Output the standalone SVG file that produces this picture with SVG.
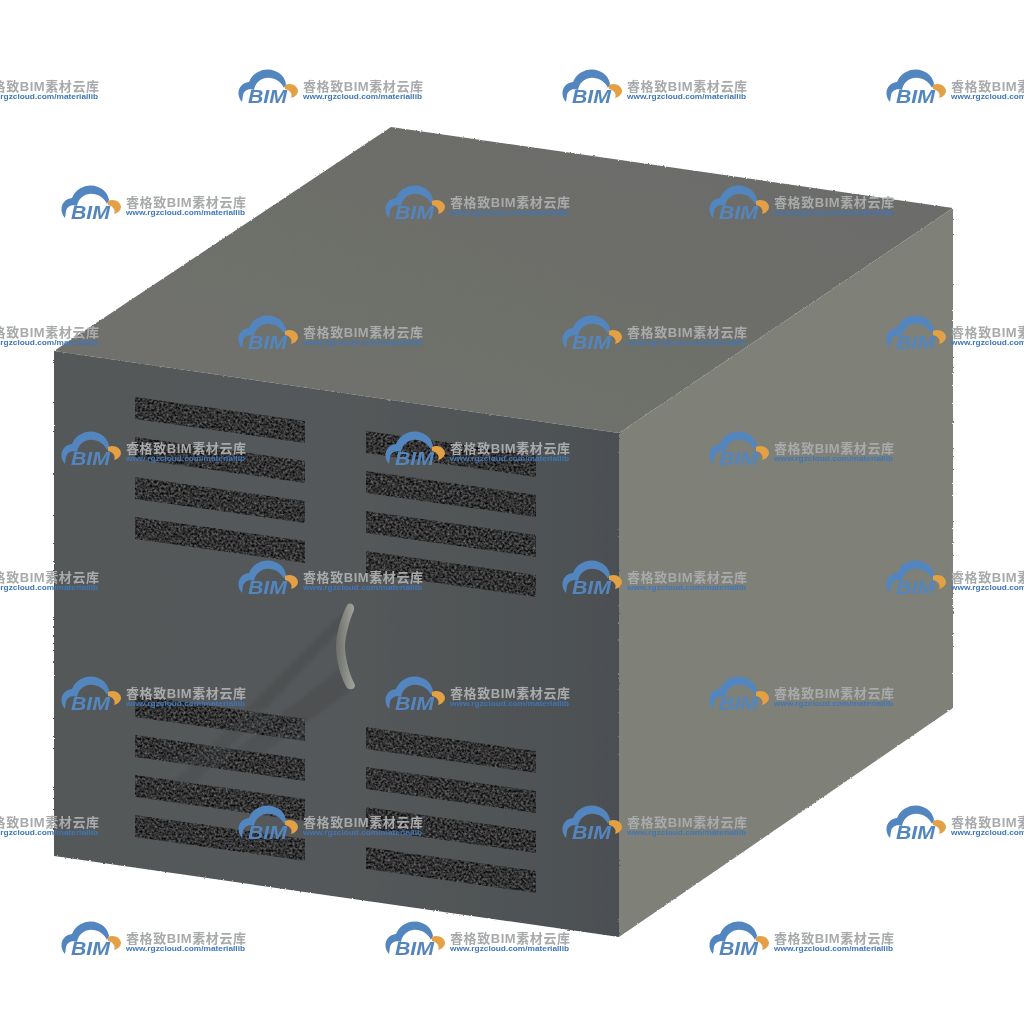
<svg xmlns="http://www.w3.org/2000/svg" xmlns:xlink="http://www.w3.org/1999/xlink" width="1024" height="1024" viewBox="0 0 1024 1024">
<style>
.wt{font-family:"Liberation Sans","Noto Sans CJK SC",sans-serif;font-size:13px;font-weight:700;fill:#a8aaab}
.wu{font-family:"Liberation Sans",sans-serif;font-size:8px;font-weight:700;fill:#3f76ba}
.wb{font-family:"Liberation Sans",sans-serif;font-size:18px;font-weight:700;font-style:italic;fill:#5386bf}
</style>
<defs>
<linearGradient id="front" x1="0" y1="0" x2="1" y2="0"><stop offset="0" stop-color="#555959"/><stop offset=".5" stop-color="#55595a"/><stop offset="1" stop-color="#4c5052"/></linearGradient>
<linearGradient id="top" x1="0" y1="1" x2="1" y2="0"><stop offset="0" stop-color="#70716d"/><stop offset="1" stop-color="#6b6c69"/></linearGradient>
<linearGradient id="handle" x1="0" y1="0" x2="1" y2="0"><stop offset="0" stop-color="#6d6f6b"/><stop offset="1" stop-color="#a3a59d"/></linearGradient>
<filter id="noise" x="-5%" y="-10%" width="110%" height="120%" color-interpolation-filters="sRGB">
<feTurbulence type="fractalNoise" baseFrequency=".42" numOctaves="2" seed="7" result="n"/>
<feColorMatrix in="n" type="matrix" values=".6 0 0 0 -.1  .6 0 0 0 -.1  .6 0 0 0 -.095  0 0 0 0 1" result="g"/>
<feDisplacementMap in="SourceGraphic" in2="n" scale="1.5" xChannelSelector="R" yChannelSelector="G" result="d"/>
<feComposite in="g" in2="d" operator="in"/>
<feGaussianBlur stdDeviation=".55"/>
</filter>
<filter id="rough" x="-2%" y="-2%" width="104%" height="104%">
<feTurbulence type="fractalNoise" baseFrequency=".6" numOctaves="1" seed="3" result="n"/>
<feDisplacementMap in="SourceGraphic" in2="n" scale="2.5" xChannelSelector="R" yChannelSelector="G"/>
</filter>
<filter id="soft"><feGaussianBlur stdDeviation="1.6"/></filter>
<filter id="wmsoft" x="-2%" y="-2%" width="104%" height="104%"><feGaussianBlur stdDeviation=".4"/></filter>
<polygon id="bar" points="0,0 170,24 170,46 0,22"/>
<g id="vent"><use xlink:href="#bar"/><use xlink:href="#bar" y="40"/><use xlink:href="#bar" y="80"/><use xlink:href="#bar" y="120"/></g>
<g id="wm">
<path fill="#5386bf" d="M4,32C-3,24 1,13 11,12C15,2 27,-3 37,1C43,3 47,8 48,14L46,18C43,11 35,7 28,8C21,9 17,14 16,20C10,18 6,21 5,25Z"/>
<path fill="#e3a044" d="M47,15C53,12 60,16 60,21C60,24 57,27 53,28C55,24 52,20 47,19Z"/>
<text class="wb" x="10" y="33" textLength="39" lengthAdjust="spacingAndGlyphs">BIM</text>
<text class="wt" x="65" y="21" textLength="120" lengthAdjust="spacing">睿格致BIM素材云库</text>
<text class="wu" x="65" y="29" textLength="119" lengthAdjust="spacingAndGlyphs">www.rgzcloud.com/materiallib</text>
</g>
</defs>
<rect width="1024" height="1024" fill="#fff"/>
<g id="box" filter="url(#rough)">
<polygon id="face-top" fill="url(#top)" points="54,351 391,127 953,208 619,433"/>
<polygon id="face-right" fill="#7f8178" points="619,433 953,208 953,708 619,937"/>
<polygon id="face-front" fill="url(#front)" points="54,351 619,433 619,937 54,856"/>
</g>
<g id="shadows" fill="#484c4e" opacity=".55" filter="url(#soft)">
<polygon points="344,611 338,632 190,790 165,790"/>
<polygon points="338,670 351,690 260,756 232,752"/>
</g>
<g id="vents" filter="url(#noise)" fill="#000">
<use xlink:href="#vent" x="135" y="397"/>
<use xlink:href="#vent" x="366" y="431"/>
<use xlink:href="#vent" x="135" y="695"/>
<use xlink:href="#vent" x="366" y="727"/>
</g>
<g id="shadows-over" fill="#5c6062" opacity=".18" filter="url(#soft)">
<polygon points="255,706 285,712 190,790 165,775"/>
<polygon points="305,718 305,738 262,755 235,750"/>
</g>
<path id="door-handle" fill="url(#handle)" filter="url(#wmsoft)" d="M347,605C350,602 355,604 354,610C349,622 345,636 345,648C346,661 349,673 355,685C355,690 350,690 347,688C341,678 336,660 336,647C336,632 342,616 347,605Z"/>
<g id="watermarks" filter="url(#wmsoft)">
<use xlink:href="#wm" x="-86" y="70"/><use xlink:href="#wm" x="238" y="70"/><use xlink:href="#wm" x="562" y="70"/><use xlink:href="#wm" x="886" y="70"/>
<use xlink:href="#wm" x="61" y="186"/><use xlink:href="#wm" x="385" y="186"/><use xlink:href="#wm" x="709" y="186"/>
<use xlink:href="#wm" x="-86" y="316"/><use xlink:href="#wm" x="238" y="316"/><use xlink:href="#wm" x="562" y="316"/><use xlink:href="#wm" x="886" y="316"/>
<use xlink:href="#wm" x="61" y="432"/><use xlink:href="#wm" x="385" y="432"/><use xlink:href="#wm" x="709" y="432"/>
<use xlink:href="#wm" x="-86" y="561"/><use xlink:href="#wm" x="238" y="561"/><use xlink:href="#wm" x="562" y="561"/><use xlink:href="#wm" x="886" y="561"/>
<use xlink:href="#wm" x="61" y="677"/><use xlink:href="#wm" x="385" y="677"/><use xlink:href="#wm" x="709" y="677"/>
<use xlink:href="#wm" x="-86" y="806"/><use xlink:href="#wm" x="238" y="806"/><use xlink:href="#wm" x="562" y="806"/><use xlink:href="#wm" x="886" y="806"/>
<use xlink:href="#wm" x="61" y="922"/><use xlink:href="#wm" x="385" y="922"/><use xlink:href="#wm" x="709" y="922"/>
</g>
</svg>
